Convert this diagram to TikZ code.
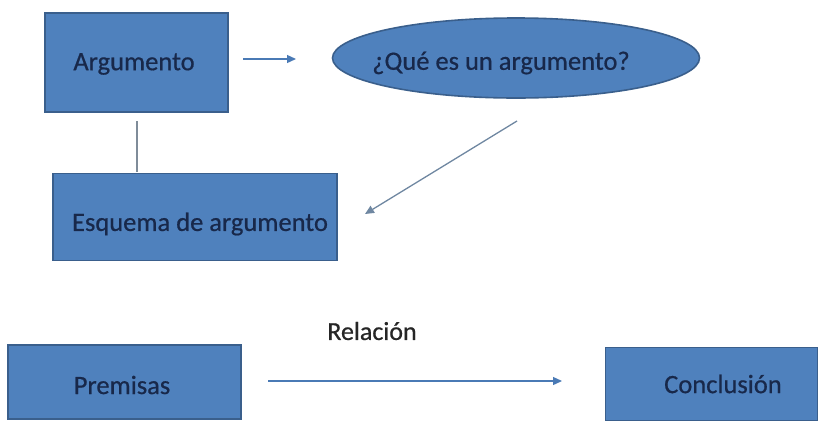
\documentclass[tikz,border=0pt]{standalone}
\usepackage{fontspec}
\setmainfont{Carlito}[FakeBold=0.6]
\usetikzlibrary{arrows.meta,shapes.geometric}
\definecolor{boxfill}{HTML}{4F81BD}
\definecolor{boxline}{HTML}{3A5F8C}
\definecolor{boxtext}{HTML}{18284A}
\definecolor{arrowcol}{HTML}{4A7AB5}
\definecolor{linecol}{HTML}{7F8C99}
\tikzset{
  x=1pt, y=-1pt,
  box/.style={draw=boxline, line width=1.6pt, fill=boxfill, rectangle, inner sep=0pt},
  oval/.style={draw=boxline, line width=1.6pt, fill=boxfill, ellipse, inner sep=0pt},
  boxlabel/.style={text=boxtext, inner sep=0pt, font=\fontsize{26.5}{31}\selectfont},
  conn/.style={draw=arrowcol, line width=1.3pt, -{Triangle[length=9pt,width=8pt]}},
  plain/.style={draw=linecol, line width=1.2pt},
}
\begin{document}
\begin{tikzpicture}
\useasboundingbox (0,0) rectangle (827,426);
\node[box, minimum width=183pt, minimum height=99pt] (arg) at (136.5,62.5) {};
\node[oval, minimum width=367pt, minimum height=80pt] (que) at (516,58) {};
\node[box, minimum width=284pt, minimum height=87pt] (esq) at (195,217) {};
\node[box, minimum width=233pt, minimum height=74pt] (pre) at (124.5,382) {};
\node[box, minimum width=212pt, minimum height=73pt] (con) at (711.5,384) {};
\node[boxlabel] (argt) at (134,64) {Argumento};
\node[boxlabel] (quet) at (501,63) {¿Qué es un argumento?};
\node[boxlabel] (esqt) at (200,224) {Esquema de argumento};
\node[boxlabel] (pret) at (122,385) {Premisas};
\node[boxlabel] (cont) at (723,384) {Conclusión};
\node[text=black!85, inner sep=0pt, font=\fontsize{26}{31}\selectfont] (rel) at (372,331) {Relación};
\coordinate (a1) at (243,59);
\coordinate (a2) at (296,59);
\coordinate (v1) at (137,121);
\coordinate (v2) at (137,172);
\coordinate (d1) at (517,121);
\coordinate (d2) at (365,214);
\coordinate (h1) at (268,381);
\coordinate (h2) at (562,381);
\draw[conn] (a1) -- (a2);
\draw[plain] (v1) -- (v2);
\draw[conn, draw=linecol!70!arrowcol] (d1) -- (d2);
\draw[conn] (h1) -- (h2);
\end{tikzpicture}
\end{document}
